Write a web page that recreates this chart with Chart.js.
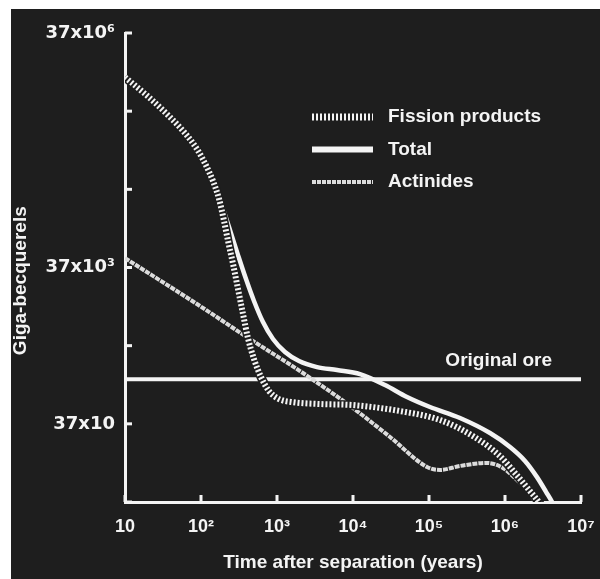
<!DOCTYPE html>
<html>
<head>
<meta charset="utf-8">
<script src="https://cdn.jsdelivr.net/npm/chart.js@4.4.1/dist/chart.umd.min.js"></script>
<style>
	body { margin: 0; background: #ffffff; }
	#layout { position: absolute; left: 11px; top: 9px; width: 589px; height: 570px; background: #1e1e1e; }
</style>
</head>
<body>
<div id="layout"><canvas id="canvas"></canvas></div>
<script>
// years after separation / activity in giga-becquerels
var fissionYears  = [10, 21.3, 39.1, 61.6, 88.6, 116, 144, 173, 201, 227, 264, 307, 357, 415, 498, 616, 785, 1063, 1576, 3680, 10000, 41500, 139600, 379000, 860000, 1396000, 2133000, 2888000, 3260000];
var fissionValues = [1.007e7, 5.43e6, 3.10e6, 1.94e6, 1.21e6, 7.54e5, 4.71e5, 2.77e5, 1.45e5, 8.05e4, 4.09e4, 1.96e4, 9385, 4629, 2494, 1468, 972, 768, 703, 663, 643, 539, 414, 258, 143, 84, 51, 35, 28];

var totalYears  = [10, 21.3, 39.1, 61.6, 88.6, 116, 148, 189, 241, 307, 391, 498, 654, 886, 1274, 1948, 3360, 6160, 12360, 26380, 51340, 103100, 255800, 634800, 1164000, 1833000, 2637000, 3463000, 4281000, 4690000];
var totalValues = [1.007e7, 5.43e6, 3.10e6, 1.94e6, 1.21e6, 7.54e5, 4.31e5, 2.26e5, 1.11e5, 5.33e4, 2.63e4, 1.38e4, 7415, 4495, 3064, 2351, 1970, 1804, 1603, 1160, 815, 607, 439, 282, 187, 124, 77, 50, 35, 28];

var actinideYears  = [10, 97, 441, 2009, 10000, 30700, 94200, 140000, 256000, 579000, 940000, 1350000, 2010000, 2560000, 2800000];
var actinideValues = [4.88e4, 1.19e4, 4492, 1751, 589, 251, 104, 95, 107, 117, 101, 75, 51, 35, 28];

var oreYears = [10, 1e7];
var oreValue = 1380;

var xTicks = [10, 100, 1000, 10000, 100000, 1000000, 10000000];
var xTickLabels = ['10', '10²', '10³', '10⁴', '10⁵', '10⁶', '10⁷'];
var yTicks = [37, 370, 3700, 37000, 370000, 3700000, 37000000];
var yTickLabels = ['', '37x10', '', '37x10³', '', '', '37x10⁶'];

var bg = '#1e1e1e';
var white = '#f4f4f4';
var grey = '#dcdcdc';
var fontFamily = '"Liberation Sans", Arial, "DejaVu Sans", sans-serif';

function toPoints(xs, ys) {
	return xs.map(function(x, i) { return { x: x, y: ys[i] }; });
}

var legendItems = [
	{ text: 'Fission products', color: white, width: 7, dash: [2, 2] },
	{ text: 'Total', color: white, width: 6, dash: [] },
	{ text: 'Actinides', color: grey, width: 4, dash: [4, 1] }
];

var decorPlugin = {
	id: 'decor',
	afterDatasetsDraw: function(chart) {
		var ctx = chart.ctx, a = chart.chartArea;
		var xs = chart.scales.x, ys = chart.scales.y;
		ctx.save();
		ctx.strokeStyle = white;
		ctx.lineWidth = 3;
		ys.ticks.forEach(function(t) {
			var p = ys.getPixelForValue(t.value);
			ctx.beginPath(); ctx.moveTo(a.left, p); ctx.lineTo(a.left + 7, p); ctx.stroke();
		});
		xs.ticks.forEach(function(t) {
			var p = xs.getPixelForValue(t.value);
			ctx.beginPath(); ctx.moveTo(p, a.bottom); ctx.lineTo(p, a.bottom - 7); ctx.stroke();
		});

		// label of the ore line
		ctx.fillStyle = white;
		ctx.font = 'bold 19px ' + fontFamily;
		ctx.textAlign = 'right';
		ctx.textBaseline = 'middle';
		ctx.fillText('Original ore', a.right - 29, ys.getPixelForValue(oreValue) - 18);

		// legend
		var x0 = a.left + 187, y0 = a.top + 84;
		ctx.textAlign = 'left';
		legendItems.forEach(function(item, i) {
			var y = y0 + i * 32.5;
			ctx.strokeStyle = item.color;
			ctx.lineWidth = item.width;
			ctx.lineCap = 'butt';
			ctx.setLineDash(item.dash);
			ctx.beginPath(); ctx.moveTo(x0, y); ctx.lineTo(x0 + 61, y); ctx.stroke();
			ctx.setLineDash([]);
			ctx.fillText(item.text, x0 + 76, y);
		});
		ctx.restore();
	}
};

var ctx = document.getElementById('canvas').getContext('2d');

var config = {
	type: 'line',
	data: {
		datasets: [
			{ label: 'Fission products', data: toPoints(fissionYears, fissionValues), borderColor: white, borderWidth: 6, borderDash: [2, 2], clip: 0 },
			{ label: 'mask', data: toPoints(fissionYears, fissionValues), borderColor: bg, borderWidth: 9, clip: 0 },
			{ label: 'Total', data: toPoints(totalYears, totalValues), borderColor: white, borderWidth: 4.5, clip: 0 },
			{ label: 'Actinides', data: toPoints(actinideYears, actinideValues), borderColor: grey, borderWidth: 4, borderDash: [5, 1], clip: 0 },
			{ label: 'Original ore', data: toPoints(oreYears, [oreValue, oreValue]), borderColor: white, borderWidth: 4, clip: 0 }
		]
	},
	options: {
		responsive: true,
		maintainAspectRatio: false,
		animation: false,
		layout: { padding: { top: 24, right: 19, left: 0, bottom: 0 } },
		elements: {
			point: { radius: 0, hoverRadius: 0 },
			line: { cubicInterpolationMode: 'monotone', borderCapStyle: 'butt', fill: false }
		},
		plugins: {
			legend: { display: false },
			tooltip: { enabled: false }
		},
		scales: {
			x: {
				type: 'logarithmic',
				position: 'bottom',
				min: 10,
				max: 1e7,
				grid: { display: false, drawTicks: false },
				border: { display: true, color: white, width: 3 },
				ticks: {
					color: white,
					font: { family: fontFamily, size: 18, weight: 'bold' },
					padding: 14,
					autoSkip: false,
					maxRotation: 0,
					callback: function(value) {
						var i = xTicks.indexOf(value);
						return i >= 0 ? xTickLabels[i] : '';
					}
				},
				title: {
					display: true,
					text: 'Time after separation (years)',
					color: white,
					font: { family: fontFamily, size: 19, weight: 'bold', lineHeight: 1 },
					padding: { top: 0, bottom: 7 }
				},
				afterBuildTicks: function(scale) {
					scale.ticks = xTicks.map(function(v) { return { value: v }; });
				},
				afterFit: function(scale) {
					scale.height = 77;
					scale.paddingLeft = 0;
					scale.paddingRight = 0;
				}
			},
			y: {
				type: 'logarithmic',
				min: 37,
				max: 37000000,
				grid: { display: false, drawTicks: false },
				border: { display: true, color: white, width: 3 },
				ticks: {
					color: white,
					font: { family: '"DejaVu Sans", sans-serif', size: 18, weight: 'bold' },
					padding: 10,
					autoSkip: false,
					callback: function(value) {
						var i = yTicks.indexOf(value);
						return i >= 0 ? yTickLabels[i] : '';
					}
				},
				title: {
					display: true,
					text: 'Giga-becquerels     ',
					color: white,
					font: { family: fontFamily, size: 19, weight: 'bold', lineHeight: 1 },
					padding: { top: 0, bottom: 0 }
				},
				afterBuildTicks: function(scale) {
					scale.ticks = yTicks.map(function(v) { return { value: v }; });
				},
				afterFit: function(scale) { scale.width = 114; }
			}
		}
	},
	plugins: [decorPlugin]
};

window.myLine = new Chart(ctx, config);
</script>
</body>
</html>
